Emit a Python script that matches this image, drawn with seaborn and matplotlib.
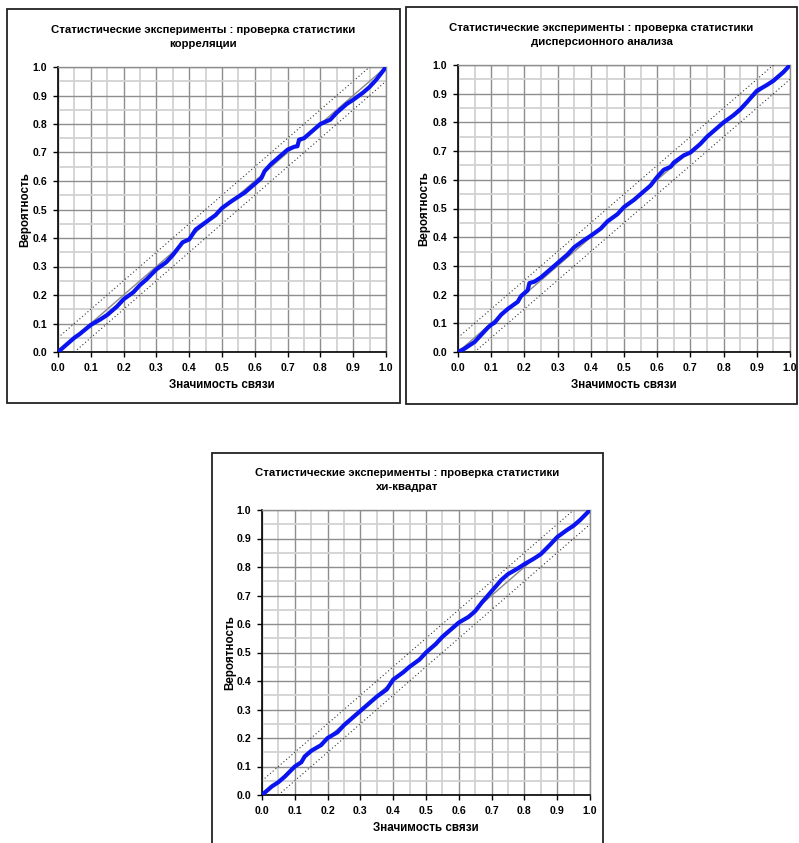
import matplotlib
matplotlib.use("Agg")
import matplotlib.pyplot as plt
from matplotlib.patches import Rectangle
import seaborn as sns
import pandas as pd
import numpy as np

sns.set_style("white")
plt.rcParams["font.family"] = ["Liberation Sans", "DejaVu Sans"]

# Empirical distribution of p-values (significance vs. probability)
corr_x = [0, 0.02, 0.05, 0.065, 0.1, 0.13, 0.15, 0.18, 0.2, 0.23, 0.25, 0.27, 0.3, 0.33,
          0.35, 0.38, 0.4, 0.42, 0.45, 0.48, 0.5, 0.53, 0.55, 0.57, 0.6, 0.62, 0.63, 0.65,
          0.68, 0.7, 0.72, 0.73, 0.735, 0.75, 0.78, 0.8, 0.83, 0.85, 0.88, 0.9, 0.93, 0.95,
          0.97, 1.0]
corr_y = [0, 0.02, 0.05, 0.062, 0.095, 0.115, 0.13, 0.16, 0.185, 0.21, 0.235, 0.255, 0.29, 0.315,
          0.34, 0.385, 0.395, 0.43, 0.455, 0.48, 0.505, 0.53, 0.545, 0.56, 0.59, 0.61, 0.635, 0.66,
          0.69, 0.71, 0.72, 0.722, 0.745, 0.75, 0.78, 0.8, 0.815, 0.84, 0.87, 0.885, 0.91, 0.93,
          0.955, 1.0]

anova_x = [0, 0.02, 0.05, 0.07, 0.09, 0.1, 0.11, 0.13, 0.15, 0.18, 0.19, 0.2, 0.21, 0.215,
           0.23, 0.25, 0.28, 0.3, 0.33, 0.35, 0.38, 0.4, 0.43, 0.45, 0.48, 0.5, 0.53, 0.55,
           0.58, 0.6, 0.62, 0.64, 0.65, 0.68, 0.7, 0.73, 0.75, 0.78, 0.8, 0.83, 0.85, 0.87,
           0.9, 0.93, 0.95, 0.98, 1.0]
anova_y = [0, 0.012, 0.035, 0.06, 0.085, 0.095, 0.102, 0.13, 0.15, 0.175, 0.195, 0.205, 0.215, 0.24,
           0.245, 0.26, 0.29, 0.31, 0.34, 0.365, 0.39, 0.405, 0.43, 0.455, 0.48, 0.505, 0.53, 0.55,
           0.58, 0.61, 0.635, 0.645, 0.66, 0.685, 0.695, 0.725, 0.75, 0.78, 0.8, 0.825, 0.845, 0.87,
           0.91, 0.93, 0.945, 0.975, 1.0]

chi_x = [0, 0.03, 0.05, 0.07, 0.1, 0.12, 0.13, 0.15, 0.18, 0.2, 0.23, 0.25, 0.28, 0.3, 0.33,
         0.35, 0.38, 0.4, 0.43, 0.45, 0.48, 0.5, 0.53, 0.55, 0.58, 0.6, 0.63, 0.65, 0.67, 0.7,
         0.73, 0.75, 0.78, 0.8, 0.83, 0.85, 0.88, 0.9, 0.93, 0.95, 0.97, 1.0]
chi_y = [0, 0.03, 0.045, 0.065, 0.1, 0.115, 0.135, 0.155, 0.175, 0.2, 0.22, 0.245, 0.275, 0.295, 0.325,
         0.345, 0.37, 0.405, 0.43, 0.45, 0.475, 0.5, 0.53, 0.555, 0.585, 0.605, 0.625, 0.645, 0.675, 0.715,
         0.755, 0.775, 0.795, 0.81, 0.83, 0.845, 0.88, 0.905, 0.93, 0.945, 0.965, 1.0]

titles = [
    "Статистические эксперименты : проверка статистики\nкорреляции",
    "Статистические эксперименты : проверка статистики\nдисперсионного анализа",
    "Статистические эксперименты : проверка статистики\nхи-квадрат",
]
x_label = "Значимость связи"
y_label = "Вероятность"
tick_labels = ["0.0", "0.1", "0.2", "0.3", "0.4", "0.5", "0.6", "0.7", "0.8", "0.9", "1.0"]
band = 0.05

W, H = 799, 843
fig = plt.figure(figsize=(W / 100, H / 100), dpi=100)


def fx(px):
    return px / W


def fy(py):
    return 1 - py / H


# panel layout in pixels: frame (x0, y0, x1, y1), axes (x0, y0, x1, y1), title y
panels = [
    dict(frame=(7, 9, 400, 403), ax=(58, 67, 386, 352), title_y=37, xs=corr_x, ys=corr_y),
    dict(frame=(406, 7, 797, 404), ax=(458, 65, 790, 352), title_y=35, xs=anova_x, ys=anova_y),
    dict(frame=(212, 453, 603, 846), ax=(262, 510, 590, 795), title_y=480, xs=chi_x, ys=chi_y),
]

text_kw = dict(fontweight="bold", color="black")
major = np.linspace(0, 1, 11)
minor = np.linspace(0.05, 0.95, 10)

for p, title in zip(panels, titles):
    fx0, fy0, fx1, fy1 = p["frame"]
    fig.patches.append(Rectangle((fx(fx0), fy(fy1)), fx(fx1 - fx0), (fy1 - fy0) / H,
                                 transform=fig.transFigure, fill=False,
                                 edgecolor="#222222", linewidth=1.3, zorder=0))
    ax0, ay0, ax1, ay1 = p["ax"]
    ax = fig.add_axes([fx(ax0), fy(ay1), fx(ax1 - ax0), (ay1 - ay0) / H])

    df_ref = pd.DataFrame({"x": [0.0, 1.0], "y": [0.0, 1.0]})
    df_up = pd.DataFrame({"x": [0.0, 1 - band], "y": [band, 1.0]})
    df_lo = pd.DataFrame({"x": [band, 1.0], "y": [0.0, 1 - band]})
    df = pd.DataFrame({"x": p["xs"], "y": p["ys"]})

    sns.lineplot(data=df_up, x="x", y="y", ax=ax, color="#333333", lw=0.8,
                 linestyle=(0, (1, 2.2)), zorder=3)
    sns.lineplot(data=df_lo, x="x", y="y", ax=ax, color="#333333", lw=0.8,
                 linestyle=(0, (1, 2.2)), zorder=3)
    sns.lineplot(data=df_ref, x="x", y="y", ax=ax, color="#8a8a8a", lw=1.0, zorder=4)
    sns.lineplot(data=df, x="x", y="y", ax=ax, color="#0a14f0", lw=3.0,
                 zorder=5, solid_capstyle="round", solid_joinstyle="round", sort=False)

    ax.set_xlim(0, 1)
    ax.set_ylim(0, 1)
    ax.set_xticks(major, tick_labels, fontsize=7.6, **text_kw)
    ax.set_yticks(major, tick_labels, fontsize=7.6, **text_kw)
    ax.set_xticks(minor, minor=True)
    ax.set_yticks(minor, minor=True)
    ax.grid(which="minor", color="#d2d2d2", lw=1.3, zorder=0)
    ax.grid(which="major", color="#8e8e8e", lw=1.0, zorder=1)
    ax.set_axisbelow(True)
    ax.tick_params(which="major", direction="out", length=3.5, width=1.0,
                   color="black", pad=4.5, left=True, bottom=True)
    ax.tick_params(which="minor", length=0)
    for s in ["left", "bottom"]:
        ax.spines[s].set_color("black")
        ax.spines[s].set_linewidth(1.2)
    for s in ["top", "right"]:
        ax.spines[s].set_color("#8e8e8e")
        ax.spines[s].set_linewidth(1.0)

    ax.set_xlabel("")
    ax.set_ylabel("")
    # axis titles placed in pixel positions relative to the panel
    fig.text(fx((ax0 + ax1) / 2), fy(ay1 + 33), x_label, ha="center", va="center",
             fontsize=8.4, **text_kw)
    fig.text(fx(fx0 + 18), fy((ay0 + ay1) / 2), y_label, ha="center", va="center",
             rotation=90, fontsize=8.4, **text_kw)
    fig.text(fx((fx0 + fx1) / 2), fy(p["title_y"]), title, ha="center", va="center",
             fontsize=8.2, linespacing=1.45, **text_kw)

fig.savefig("out.png", dpi=100)
